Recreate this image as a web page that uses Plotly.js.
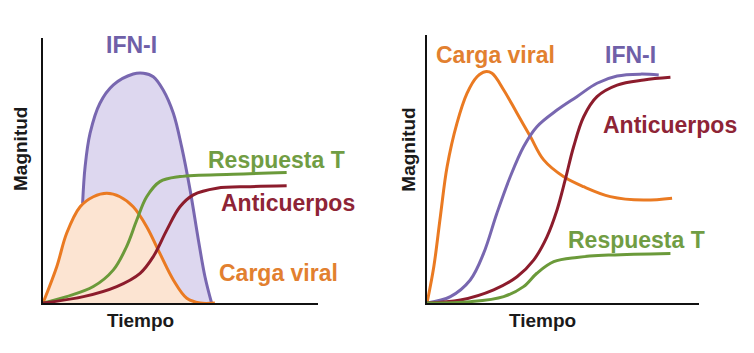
<!DOCTYPE html>
<html><head><meta charset="utf-8">
<script src="https://cdn.plot.ly/plotly-3.0.1.min.js"></script>
<style>html,body{margin:0;padding:0;background:#fff}#c{width:754px;height:353px}</style>
</head><body><div id="c"></div>
<script>
// ---- Left panel (acute infection) ----
const L_ifn_x = [14.4, 15.3, 17.1, 20.7, 25.6, 32.8, 36.5, 40.1, 43.7, 47.4, 50.4, 53.5, 56.5, 58.9, 61.3];
const L_ifn_y = [37.6, 51.4, 64.0, 75.4, 82.3, 86.4, 86.7, 85.4, 80.4, 71.6, 59.0, 42.6, 23.8, 9.9, 0];
const L_viral_x = [0, 5.0, 8.6, 13.5, 18.3, 23.2, 28.0, 32.8, 37.7, 42.5, 47.4, 52.3, 57.1, 62.5];
const L_viral_y = [0, 13.7, 26.3, 36.3, 40.1, 41.4, 40.1, 36.3, 28.8, 18.7, 8.7, 1.8, 0, 0];
const L_t_x = [0, 8.6, 18.3, 25.6, 30.4, 34.1, 37.7, 42.5, 49.8, 69.2, 88.6];
const L_t_y = [0, 2.4, 6.2, 12.5, 21.3, 31.3, 40.1, 45.8, 47.7, 48.6, 49.2];
const L_ab_x = [0, 14.7, 26.8, 35.3, 40.1, 45.0, 49.8, 54.7, 63.2, 75.3, 88.6];
const L_ab_y = [0, 2.4, 6.2, 11.2, 17.5, 27.5, 36.3, 40.8, 43.3, 43.9, 44.2];

// ---- Right panel (persistent infection) ----
const R_viral_x = [0, 2.5, 4.9, 7.4, 11.0, 14.7, 18.4, 21.4, 23.9, 28.2, 33.1, 38.0, 42.9, 50.3, 57.6, 67.4, 79.7, 90.1];
const R_viral_y = [0, 13.5, 32.2, 50.9, 67.0, 78.2, 84.4, 86.3, 85.7, 79.5, 70.8, 62.1, 53.4, 47.1, 43.4, 39.7, 38.4, 39.1];
const R_ifn_x = [0, 8.6, 15.9, 20.8, 25.7, 30.6, 35.5, 40.4, 47.8, 55.1, 62.5, 69.9, 78.4, 85.2];
const R_ifn_y = [0, 2.4, 8.6, 18.5, 33.5, 47.1, 58.3, 65.8, 72.0, 77.0, 82.0, 84.7, 85.4, 85.1];
const R_ab_x = [0, 12.3, 24.5, 33.1, 39.2, 44.1, 47.8, 50.8, 53.9, 57.6, 62.5, 69.9, 79.7, 89.5];
const R_ab_y = [0, 1.1, 4.9, 9.8, 16.0, 24.7, 34.7, 45.9, 58.3, 69.5, 77.0, 81.3, 83.2, 84.2];
const R_t_x = [0, 15.9, 28.2, 35.5, 40.4, 46.6, 55.1, 67.4, 89.5];
const R_t_y = [0, 0.5, 2.4, 6.1, 11.1, 15.4, 17.0, 17.9, 18.5];

// ---- Text ----
const seriesNames = ["IFN-I", "Carga viral", "Respuesta T", "Anticuerpos"];
const xTitle = "Tiempo";
const yTitle = "Magnitud";

const C = {ifn:'#7867b0', viral:'#ea7a22', t:'#6b9a3a', ab:'#8c1c2c'};
const T = {ifn:'#6f60a8', viral:'#e2802f', t:'#719d43', ab:'#8e2436'};
const FONT = 'Liberation Sans, Arial, sans-serif';

function ln(x, y, color, xa, ya, fill, fillcolor){
  const t = {x:x, y:y, xaxis:xa, yaxis:ya, type:'scatter', mode:'lines',
    line:{color:color, width:3, shape:'spline', smoothing:1}, hoverinfo:'skip', showlegend:false};
  if(fill){ t.fill = fill; t.fillcolor = fillcolor; }
  return t;
}

const data = [
  ln(L_ifn_x, L_ifn_y, C.ifn, 'x', 'y', 'tozeroy', '#ddd7ef'),
  ln(L_viral_x, L_viral_y, C.viral, 'x', 'y', 'tozeroy', '#fce4d2'),
  ln(L_t_x, L_t_y, C.t, 'x', 'y'),
  ln(L_ab_x, L_ab_y, C.ab, 'x', 'y'),
  ln(R_viral_x, R_viral_y, C.viral, 'x2', 'y2'),
  ln(R_ifn_x, R_ifn_y, C.ifn, 'x2', 'y2'),
  ln(R_ab_x, R_ab_y, C.ab, 'x2', 'y2'),
  ln(R_t_x, R_t_y, C.t, 'x2', 'y2')
];

const ax = {showline:true, linecolor:'#111', linewidth:2, showgrid:false, zeroline:false,
  showticklabels:false, ticks:'', range:[0,100], fixedrange:true};

function lab(text, x, y, xr, yr, color){
  return {text:text, x:x, y:y, xref:xr, yref:yr, showarrow:false,
    font:{family:FONT, size:23, color:color}, xanchor:'center', yanchor:'middle'};
}
function bold(s){ return '<b>'+s+'</b>'; }

const annotations = [
  lab(bold(seriesNames[0]), 32.3, 97.4, 'x', 'y', T.ifn),
  lab(bold(seriesNames[2]), 85.0, 54.0, 'x', 'y', T.t),
  lab(bold(seriesNames[3]), 89.2, 37.6, 'x', 'y', T.ab),
  lab(bold(seriesNames[1]), 85.6, 11.2, 'x', 'y', T.viral),
  lab(bold(seriesNames[1]), 25.1, 92.5, 'x2', 'y2', T.viral),
  lab(bold(seriesNames[0]), 74.7, 92.5, 'x2', 'y2', T.ifn),
  lab(bold(seriesNames[3]), 89.4, 66.4, 'x2', 'y2', T.ab),
  lab(bold(seriesNames[2]), 77.2, 23.5, 'x2', 'y2', T.t),
];
[[140/754, 408.7/754]].forEach(()=>{});
[[140,320],[542,320]].forEach(p=>annotations.push({text:bold(xTitle), x:p[0]/754, y:1-p[1]/353,
  xref:'paper', yref:'paper', showarrow:false, xanchor:'center', yanchor:'middle',
  font:{family:FONT, size:19, color:'#1a1a1a'}}));
[[20,149],[408.7,150]].forEach(p=>annotations.push({text:bold(yTitle), x:p[0]/754, y:1-p[1]/353,
  xref:'paper', yref:'paper', showarrow:false, xanchor:'center', yanchor:'middle', textangle:-90,
  font:{family:FONT, size:19, color:'#1a1a1a'}}));

const layout = {
  width:754, height:353, margin:{l:0, r:0, t:0, b:0},
  paper_bgcolor:'#fff', plot_bgcolor:'rgba(0,0,0,0)', showlegend:false,
  xaxis:Object.assign({}, ax, {domain:[43/754, 318/754], anchor:'y'}),
  yaxis:Object.assign({}, ax, {domain:[1-303/353, 1-38/353], anchor:'x'}),
  xaxis2:Object.assign({}, ax, {domain:[427/754, 699/754], anchor:'y2'}),
  yaxis2:Object.assign({}, ax, {domain:[1-303/353, 1-35/353], anchor:'x2'}),
  annotations:annotations
};

Plotly.newPlot('c', data, layout, {staticPlot:true, displayModeBar:false});
</script></body></html>
